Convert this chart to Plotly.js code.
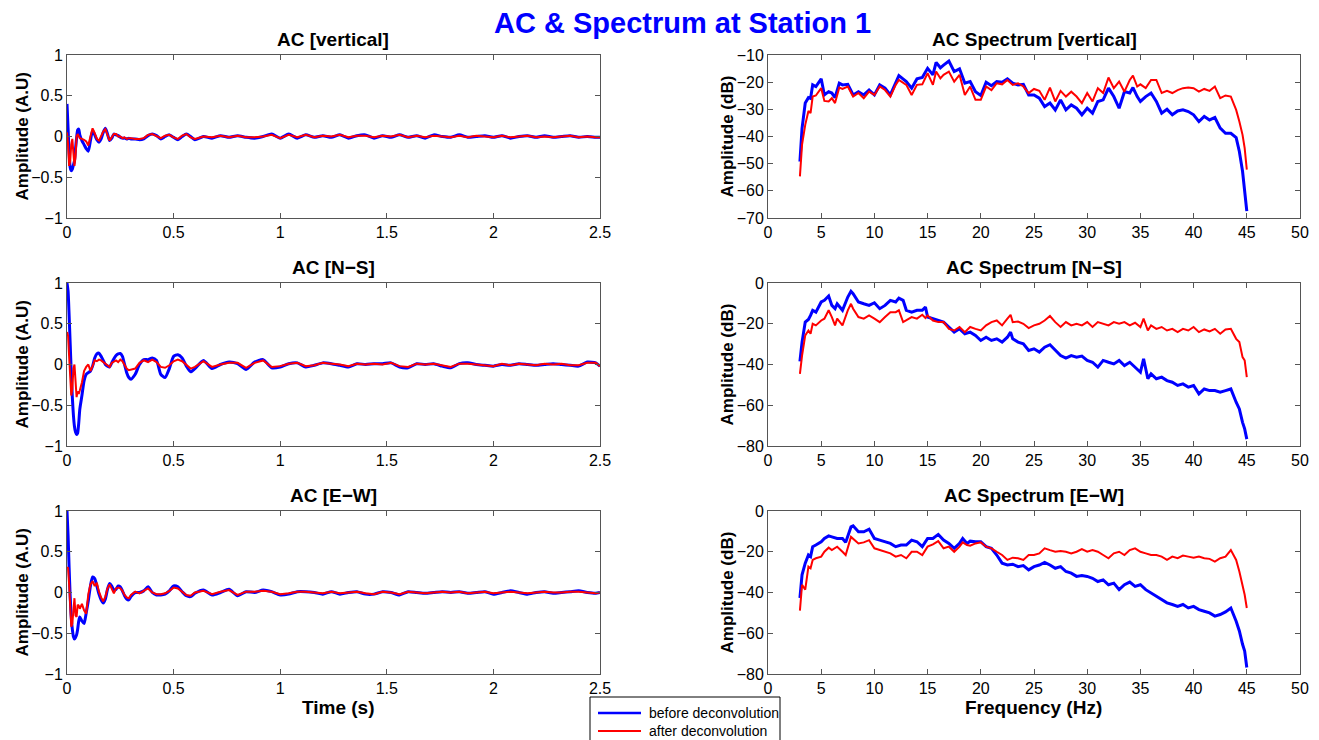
<!DOCTYPE html>
<html>
<head>
<meta charset="utf-8">
<script src="https://cdn.plot.ly/plotly-3.0.1.min.js"></script>
<style>html,body{margin:0;padding:0;background:#fff;}#chart{width:1319px;height:740px;}</style>
</head>
<body>
<div id="chart"></div>
<script>
// ---- time axis (s) for autocorrelation panels ----
var timeS = [0,0.005,0.01,0.015,0.02,0.025,0.03,0.035,0.04,0.045,0.05,0.055,0.06,
0.07,0.08,0.09,0.1,0.11,0.12,0.13,0.14,0.15,0.16,0.17,0.18,0.19,0.2,0.21,0.22,0.23,0.24,0.25,0.26,0.27,0.28,0.29,0.3,
0.32,0.34,0.36,0.38,0.4,0.42,0.44,0.46,0.48,0.5,0.52,0.54,0.56,0.58,0.6,
0.64,0.68,0.72,0.76,0.8,0.84,0.88,0.92,0.96,1.0,
1.04,1.08,1.12,1.16,1.2,1.24,1.28,1.32,1.36,1.4,
1.44,1.48,1.52,1.56,1.6,1.64,1.68,1.72,1.76,1.8,
1.84,1.88,1.92,1.96,2.0,2.04,2.08,2.12,2.16,2.2,
2.24,2.28,2.32,2.36,2.4,2.44,2.48,2.5];

// AC vertical
var acVertBefore = [0.4,0.1,-0.2,-0.38,-0.42,-0.4,-0.35,-0.3,-0.15,-0.02,0.08,0.09,0.02,
-0.05,-0.1,-0.15,-0.18,-0.05,0.07,0.02,-0.04,-0.07,-0.03,0.05,0.1,0.03,-0.05,-0.02,0.03,0.02,0.01,-0.01,-0.02,-0.02,-0.03,-0.02,-0.03,
-0.03,-0.04,-0.03,0.01,0.03,0.01,-0.03,0.0,0.02,-0.01,-0.04,0.0,0.03,0.0,-0.04,
0.0,-0.02,0.01,-0.01,0.01,-0.01,-0.02,0.0,0.03,-0.02,
0.03,-0.02,0.02,-0.01,0.01,-0.01,0.02,-0.02,0.01,0.02,
-0.02,0.01,-0.01,0.02,-0.01,0.01,-0.02,0.02,0.0,-0.01,
0.02,-0.01,0.0,0.01,-0.01,0.01,-0.02,0.0,0.01,-0.01,
0.01,-0.01,0.0,0.01,-0.01,0.0,-0.01,-0.01];
var acVertAfter = [0.05,-0.1,-0.36,-0.3,-0.1,-0.03,-0.2,-0.36,-0.25,0.0,0.03,0.0,-0.02,
-0.03,-0.04,-0.06,-0.11,0.0,0.1,0.04,-0.03,-0.05,0.0,0.06,0.09,0.02,-0.05,-0.01,0.03,0.03,0.0,0.0,-0.02,-0.01,-0.03,-0.02,-0.02,
-0.03,-0.03,-0.02,0.02,0.03,0.0,-0.02,0.01,0.02,-0.01,-0.03,0.01,0.03,-0.01,-0.03,
0.0,-0.01,0.01,-0.01,0.01,-0.01,-0.01,0.0,0.02,-0.02,
0.02,-0.01,0.02,-0.01,0.01,0.0,0.02,-0.01,0.01,0.01,
-0.01,0.01,0.0,0.02,-0.01,0.01,-0.01,0.01,0.0,-0.01,
0.01,-0.01,0.01,0.0,-0.01,0.01,-0.01,0.0,0.01,-0.01,
0.0,-0.01,0.0,0.01,-0.01,0.0,-0.01,-0.01];

// AC N-S
var acNSBefore = [1.0,0.9,0.6,0.25,-0.1,-0.4,-0.62,-0.76,-0.83,-0.86,-0.84,-0.72,-0.55,
-0.38,-0.2,-0.12,-0.1,-0.08,-0.02,0.08,0.13,0.14,0.1,0.05,0.0,-0.02,-0.03,0.02,0.07,0.11,0.13,0.135,0.1,0.0,-0.1,-0.16,-0.18,
-0.12,0.0,0.06,0.06,0.08,0.05,-0.12,-0.16,-0.05,0.1,0.12,0.08,-0.02,-0.09,-0.05,
0.05,-0.05,0.0,0.03,0.01,-0.06,0.03,0.06,-0.04,-0.03,
0.01,0.02,-0.03,-0.01,0.02,0.01,-0.01,-0.03,0.01,0.0,
0.01,0.01,0.02,-0.03,-0.04,0.01,0.0,0.01,-0.02,-0.04,
0.01,0.02,0.0,-0.01,-0.02,0.0,-0.01,0.01,0.0,-0.01,
0.0,0.01,0.0,-0.01,-0.02,0.03,0.02,-0.02];
var acNSAfter = [0.4,0.35,0.1,-0.2,-0.38,-0.3,-0.05,0.0,-0.25,-0.4,-0.33,-0.36,-0.32,
-0.22,-0.08,-0.03,0.0,-0.08,-0.02,0.05,0.04,0.06,0.05,0.03,0.01,-0.02,-0.03,0.02,0.04,0.05,0.03,0.06,0.04,-0.01,-0.05,-0.07,-0.06,
-0.05,0.02,0.05,0.03,0.06,0.03,-0.03,-0.04,-0.01,0.04,0.06,0.04,-0.01,-0.05,-0.03,
0.04,-0.03,0.0,0.02,0.02,-0.04,0.02,0.05,-0.03,-0.02,
0.01,0.02,-0.02,-0.01,0.02,0.01,0.0,-0.02,0.01,0.0,
0.01,0.0,0.02,-0.02,-0.03,0.01,0.0,0.01,-0.01,-0.03,
0.01,0.01,0.0,-0.01,-0.02,0.01,-0.01,0.01,0.0,-0.01,
0.01,0.0,0.01,-0.01,-0.01,0.02,0.02,-0.02];

// AC E-W
var acEWBefore = [1.0,0.7,0.3,-0.05,-0.3,-0.45,-0.54,-0.57,-0.55,-0.52,-0.45,-0.35,-0.3,
-0.35,-0.38,-0.25,-0.1,0.08,0.19,0.17,0.08,-0.02,-0.09,-0.13,-0.08,0.04,0.11,0.08,0.03,0.04,0.08,0.07,0.02,-0.04,-0.08,-0.09,-0.05,
0.0,0.0,0.02,0.07,0.0,-0.03,-0.03,-0.02,0.02,0.08,0.07,0.01,-0.04,-0.05,-0.01,
0.03,-0.03,0.0,0.04,-0.04,0.01,0.0,0.03,0.01,-0.03,
-0.02,0.01,0.01,0.0,-0.02,0.01,-0.02,0.0,0.01,-0.02,
-0.02,0.01,0.0,-0.03,0.01,0.0,-0.01,0.0,0.01,0.0,
0.01,-0.01,0.0,0.01,-0.02,0.0,0.02,0.0,-0.02,0.0,
0.01,-0.01,0.0,0.01,0.02,0.0,-0.01,0.0];
var acEWAfter = [0.31,0.3,0.1,-0.2,-0.42,-0.38,-0.15,-0.07,-0.28,-0.3,-0.15,-0.16,-0.2,
-0.14,-0.22,-0.26,-0.02,0.1,0.14,0.08,0.12,0.01,-0.06,-0.11,-0.05,0.05,0.1,0.04,-0.01,0.05,0.06,0.05,0.02,-0.03,-0.06,-0.07,-0.03,
0.01,-0.01,0.02,0.05,0.0,-0.02,-0.02,-0.01,0.02,0.06,0.05,0.01,-0.03,-0.04,0.0,
0.02,-0.02,0.01,0.03,-0.03,0.01,0.01,0.02,0.01,-0.02,
-0.01,0.01,0.01,0.0,-0.01,0.01,-0.01,0.0,0.01,-0.01,
-0.02,0.01,0.0,-0.02,0.01,0.0,-0.01,0.0,0.01,0.0,
0.01,-0.01,0.0,0.01,-0.01,0.0,0.01,0.0,-0.01,0.0,
0.01,0.0,0.0,0.01,0.01,0.0,-0.01,0.0];

// ---- spectra (Hz, dB) ----
var freqVert = [3,3.2,3.5,3.8,4,4.2,4.5,5,5.3,5.7,
6,6.3,6.7,7,7.5,8,8.5,9,9.5,10,
10.5,11,11.5,12,12.3,13,13.5,14,14.5,15,
15.5,15.8,16.2,16.5,17,17.5,18,18.5,19,19.5,
20,20.5,21,21.5,22,22.5,23,23.5,24,24.5,
25,25.5,26,26.5,27,27.5,28,28.5,29,29.5,
30,30.5,31,31.5,32,32.5,33,33.5,34,34.3,
34.7,35,35.5,36,36.5,37,37.5,38,38.5,39,
39.5,40,40.5,41,41.5,42,42.5,43,43.5,44,
44.3,44.6,44.8,45];
var specVertBefore = [-49.2,-37,-27.7,-25.7,-26,-21,-21.6,-18.8,-24.7,-23.5,
-24,-25.7,-20.4,-21,-20.8,-24.7,-23.5,-24.7,-22.9,-24.7,
-21,-22.2,-24.7,-20.4,-17.6,-19.8,-22.2,-18.8,-18.3,-14.9,
-17.3,-12.7,-14.7,-13.7,-12.2,-16.1,-15.1,-20.4,-19.8,-23.5,
-24.9,-20,-21.3,-19.8,-20,-18.8,-20.4,-21,-20.8,-24.7,
-24.7,-25.9,-29,-27.7,-30.2,-26.5,-30.2,-28.4,-29.6,-32,
-29.6,-31.4,-27.1,-26.5,-22.2,-25.3,-29.6,-23.5,-24,-22,
-25.3,-27.1,-25.3,-24,-27.1,-31.4,-30,-32,-30.6,-30.2,
-30.8,-32,-34.5,-32.6,-33.9,-33,-36.9,-38.8,-38.8,-40.4,
-45.5,-52.8,-60.2,-67.5];
var specVertAfter = [-54.7,-43,-35.7,-30.6,-31.4,-25.3,-24.9,-22.2,-26.9,-27.1,
-25.9,-27.7,-22,-22.5,-21.6,-25.3,-24,-25.9,-23.5,-24.7,
-21.6,-22.9,-25.3,-21,-19.2,-21,-24.7,-21,-20.8,-16.7,
-21,-16.1,-18.6,-17.3,-16.1,-19.8,-17.3,-24.7,-21.6,-26.5,
-26.5,-21.6,-22.9,-20.4,-20.8,-19.2,-21,-20.4,-21.6,-24,
-22.5,-23.2,-26.5,-22,-27.1,-23.2,-25.3,-23.5,-25.3,-27.7,
-24,-27.1,-22.2,-24,-18.3,-22.2,-19.8,-23.5,-19.2,-17.6,
-21.6,-20.8,-22.2,-19.2,-19.2,-24,-23.2,-24,-22.9,-22.2,
-22,-22.2,-23.5,-22.5,-23.2,-21.6,-25.9,-24.9,-25.3,-30.2,
-34.5,-39.4,-44.3,-52.2];

var freqNS = [3,3.2,3.5,3.8,4,4.2,4.5,5,5.3,5.7,
6,6.3,6.5,7,7.5,7.8,8,8.5,9,9.5,
10,10.5,11,11.5,12,12.3,12.7,13,13.5,14,
14.5,14.8,15,15.5,16,16.5,17,17.5,18,18.5,
19,19.5,20,20.5,21,21.5,22,22.5,22.8,23,
23.5,24,24.5,25,25.5,26,26.5,27,27.5,28,
28.5,29,29.5,30,30.5,31,31.5,32,32.5,33,
33.5,34,34.5,35,35.3,35.7,36,36.5,37,37.5,
38,38.5,39,39.5,40,40.5,41,41.5,42,42.5,
43,43.5,44,44.3,44.6,44.8,45];
var specNSBefore = [-38.5,-29,-19.2,-17.9,-15.9,-13.4,-14.3,-9.3,-8.5,-6.4,
-11,-12.6,-10.2,-13.4,-6.9,-4.1,-5.2,-9.3,-10.2,-11,
-9.7,-12.6,-11,-8.5,-9.3,-7.4,-8.5,-13.4,-14.3,-13.4,
-13.4,-11.8,-16.7,-17.5,-18.4,-19.2,-21.6,-24.1,-22.5,-24.9,
-24.1,-25.7,-28.2,-26.6,-28.2,-27.4,-29,-26.6,-24.1,-27.4,
-29,-29.8,-33.1,-32.3,-33.9,-31.5,-30.3,-33.1,-35.6,-36.9,
-35.6,-36.4,-35.9,-38,-38.9,-41.3,-38,-38.9,-39.7,-38,
-40.5,-38.9,-41.3,-43.8,-37.2,-47,-44.6,-47,-46.2,-47.9,
-48.7,-50.3,-49.5,-51.1,-50.3,-54.4,-52,-52.8,-52.8,-53.6,
-52.8,-52,-58.5,-61.8,-68.4,-71.6,-76.6];
var specNSAfter = [-44.6,-35.6,-25.7,-23.3,-24.9,-20,-20.8,-18.4,-17.5,-13.4,
-16.7,-20.8,-17.5,-20.8,-13.4,-10.2,-12.6,-16.7,-17.5,-15.9,
-17.5,-19.2,-16.7,-14.3,-14.3,-13.4,-19.2,-18.4,-16.7,-17.5,
-15.6,-17.2,-15.9,-18.4,-19.2,-19.2,-22.5,-23.3,-21.6,-24.1,
-21.6,-22.5,-23.3,-20.8,-19.2,-18.4,-20.8,-17.5,-15.6,-19.2,
-18.9,-20,-22.1,-20.8,-20,-18.4,-16.2,-19.2,-21.6,-19.2,
-20.8,-20,-20.8,-19.2,-21.6,-19.2,-20,-20.8,-19.2,-20,
-19.2,-20.8,-19.5,-21.6,-17.5,-23.3,-20.8,-22.5,-21.6,-23.3,
-22.5,-24.1,-22.5,-23.3,-21.6,-24.1,-22.8,-23.8,-22.5,-24.9,
-22.8,-22.5,-27.4,-29,-36.4,-38,-46.2];

var freqEW = [3,3.2,3.5,3.8,4,4.2,4.5,5,5.3,5.7,
6,6.5,7,7.3,7.8,8,8.5,9,9.5,10,
10.5,11,11.5,12,12.5,13,13.5,14,14.5,15,
15.5,16,16.5,17,17.5,18,18.3,18.7,19,19.5,
20,20.5,21,21.5,22,22.5,23,23.5,24,24.5,
25,25.5,26,26.5,27,27.5,28,28.5,29,29.5,
30,30.5,31,31.5,32,32.5,33,33.5,34,34.5,
35,35.5,36,36.5,37,37.5,38,38.5,39,39.5,
40,40.5,41,41.5,42,42.5,43,43.5,44,44.3,
44.6,44.8,45];
var specEWBefore = [-42.7,-31.3,-25.6,-21.6,-22.4,-17.5,-16.7,-15.1,-13.5,-12.2,
-12.7,-13.5,-13.5,-15.4,-7.8,-7.3,-10.2,-10.2,-8.9,-13.5,
-14.3,-15.1,-15.9,-17.5,-16.7,-16.7,-14.3,-15.1,-17.5,-13.5,
-13.5,-11.5,-14.3,-15.9,-18.3,-15.9,-13.5,-15.9,-14.8,-15.1,
-15.1,-17.5,-18.3,-21.6,-25.6,-26.5,-26.1,-27.3,-26.8,-28.9,
-27.3,-26.5,-25.2,-26.5,-28.1,-27.3,-29.7,-30.5,-32.1,-31.7,
-32.1,-33,-34.6,-33.8,-36.2,-35.4,-38.6,-36.2,-34.9,-37,
-36.2,-38.6,-40.3,-41.9,-43.5,-45.1,-45.9,-46.8,-45.9,-47.6,
-46.8,-48.4,-49.2,-50,-51.6,-50.8,-49.5,-47.6,-54.1,-58.9,
-65.4,-68.7,-76.8];
var specEWAfter = [-48.9,-36.2,-38.6,-27.3,-28.1,-24,-23.2,-22.4,-20,-18,
-19.2,-17.5,-20,-21.6,-12.7,-13.5,-15.9,-15.4,-14.3,-18.3,
-19.2,-20,-20.8,-22.4,-21.6,-23.2,-20,-20,-21.6,-17.5,
-16.4,-14.8,-18.3,-17.5,-20,-17.5,-15.4,-16.7,-17,-15.9,
-15.4,-17.5,-18.3,-20,-21.6,-24,-22.9,-23.2,-24,-21.6,
-21.6,-20.8,-18.3,-19.2,-20,-19.6,-20,-20.8,-20,-18.7,
-20,-19.2,-20,-21.6,-23.2,-20.8,-20,-21.6,-19.2,-18.3,
-20,-20.8,-21.6,-21.6,-22.4,-24,-22.4,-23.2,-21.9,-22.4,
-22.9,-22.4,-23.2,-23.5,-24.8,-23.2,-22.4,-19.2,-24,-29.7,
-36.2,-41.1,-47.6];

var seriesNames = ['before deconvolution', 'after deconvolution'];
var panelTitles = ['AC [vertical]', 'AC Spectrum [vertical]', 'AC [N\u2212S]', 'AC Spectrum [N\u2212S]', 'AC [E\u2212W]', 'AC Spectrum [E\u2212W]'];
var mainTitle = 'AC & Spectrum at Station 1';

// ---- build ----
var BLUE = '#0000ff', RED = '#ff0000';
var FONT = 'Liberation Sans, Arial, Helvetica, sans-serif';
var W = 1319, H = 740;
function px(x){ return x / W; }
function py(y){ return 1 - y / H; }

var leftDom = [px(67), px(600)];
var rightDom = [px(768), px(1300)];
var rowsPx = [[55, 218], [283, 446], [511, 674]];

var acSets = [[acVertBefore, acVertAfter], [acNSBefore, acNSAfter], [acEWBefore, acEWAfter]];
var specSets = [[freqVert, specVertBefore, specVertAfter], [freqNS, specNSBefore, specNSAfter], [freqEW, specEWBefore, specEWAfter]];

var traces = [];
var layout = {
  width: W, height: H,
  margin: {l: 0, r: 0, t: 0, b: 0},
  paper_bgcolor: '#ffffff', plot_bgcolor: '#ffffff',
  font: {family: FONT, size: 16, color: '#000'},
  showlegend: false,
  annotations: [],
  shapes: []
};

function axisBase(dom, range, dtick, anchor, tick0) {
  return {
    domain: dom, range: range, anchor: anchor,
    showgrid: false, zeroline: false,
    showline: true, linecolor: '#555', linewidth: 1, mirror: 'allticks',
    ticks: 'inside', ticklen: 5, tickcolor: '#555', tickwidth: 1,
    tickfont: {family: FONT, size: 16, color: '#000'},
    dtick: dtick, tick0: tick0, fixedrange: true
  };
}

for (var r = 0; r < 3; r++) {
  var yDom = [py(rowsPx[r][1]), py(rowsPx[r][0])];
  var iL = 2 * r + 1, iR = 2 * r + 2;
  var xL = 'x' + iL, yL = 'y' + iL, xR = 'x' + iR, yR = 'y' + iR;

  layout['xaxis' + iL] = axisBase(leftDom, [0, 2.5], 0.5, yL, 0);
  layout['yaxis' + iL] = axisBase(yDom, [-1, 1], 0.5, xL, -1);
  layout['xaxis' + iR] = axisBase(rightDom, [0, 50], 5, yR, 0);
  layout['yaxis' + iR] = (r === 0) ? axisBase(yDom, [-70, -10], 10, xR, -70) : axisBase(yDom, [-80, 0], 20, xR, -80);

  var ac = acSets[r];
  traces.push({x: timeS, y: ac[0], xaxis: xL, yaxis: yL, type: 'scatter', mode: 'lines',
    line: {color: BLUE, width: 3, shape: 'spline', smoothing: 0.6}, name: seriesNames[0]});
  traces.push({x: timeS, y: ac[1], xaxis: xL, yaxis: yL, type: 'scatter', mode: 'lines',
    line: {color: RED, width: 2}, name: seriesNames[1]});

  var sp = specSets[r];
  traces.push({x: sp[0], y: sp[1], xaxis: xR, yaxis: yR, type: 'scatter', mode: 'lines',
    line: {color: BLUE, width: 3}, name: seriesNames[0]});
  traces.push({x: sp[0], y: sp[2], xaxis: xR, yaxis: yR, type: 'scatter', mode: 'lines',
    line: {color: RED, width: 2}, name: seriesNames[1]});

  var tFont = {family: FONT, size: 19, color: '#000', weight: 'bold'};
  layout.annotations.push({text: panelTitles[2 * r], x: (leftDom[0] + leftDom[1]) / 2, y: py(rowsPx[r][0] - 3),
    xref: 'paper', yref: 'paper', xanchor: 'center', yanchor: 'bottom', showarrow: false, font: tFont});
  layout.annotations.push({text: panelTitles[2 * r + 1], x: (rightDom[0] + rightDom[1]) / 2, y: py(rowsPx[r][0] - 3),
    xref: 'paper', yref: 'paper', xanchor: 'center', yanchor: 'bottom', showarrow: false, font: tFont});
  var yc = py((rowsPx[r][0] + rowsPx[r][1]) / 2);
  var aFont = {family: FONT, size: 17, color: '#000', weight: 'bold'};
  layout.annotations.push({text: 'Amplitude (A.U)', x: px(22), y: yc, xref: 'paper', yref: 'paper',
    xanchor: 'center', yanchor: 'middle', textangle: -90, showarrow: false, font: aFont});
  layout.annotations.push({text: 'Amplitude (dB)', x: px(727), y: yc, xref: 'paper', yref: 'paper',
    xanchor: 'center', yanchor: 'middle', textangle: -90, showarrow: false, font: aFont});
}

var xtFont = {family: FONT, size: 19, color: '#000', weight: 'bold'};
layout.annotations.push({text: 'Time (s)', x: px(338), y: py(707), xref: 'paper', yref: 'paper',
  xanchor: 'center', yanchor: 'middle', showarrow: false, font: xtFont});
layout.annotations.push({text: 'Frequency (Hz)', x: px(1033), y: py(707), xref: 'paper', yref: 'paper',
  xanchor: 'center', yanchor: 'middle', showarrow: false, font: xtFont});
layout.annotations.push({text: mainTitle, x: px(682), y: py(23), xref: 'paper', yref: 'paper',
  xanchor: 'center', yanchor: 'middle', showarrow: false, font: {family: FONT, size: 29, color: '#0000ff', weight: 'bold'}});

// ---- legend box (drawn as paper shapes + text) ----
layout.shapes.push({type: 'rect', xref: 'paper', yref: 'paper', x0: px(590), x1: px(780), y0: py(745), y1: py(697),
  line: {color: '#000', width: 1}, fillcolor: '#ffffff', layer: 'above'});
var legColors = [BLUE, RED], legWidths = [2.5, 2], legY = [713, 731];
for (var k = 0; k < 2; k++) {
  layout.shapes.push({type: 'line', xref: 'paper', yref: 'paper', x0: px(598), x1: px(641), y0: py(legY[k]), y1: py(legY[k]),
    line: {color: legColors[k], width: legWidths[k]}, layer: 'above'});
  layout.annotations.push({text: seriesNames[k], x: px(647), y: py(legY[k]), xref: 'paper', yref: 'paper',
    xanchor: 'left', yanchor: 'middle', showarrow: false, font: {family: FONT, size: 14, color: '#000'}});
}

Plotly.newPlot('chart', traces, layout, {displayModeBar: false, staticPlot: true});
</script>
</body>
</html>
